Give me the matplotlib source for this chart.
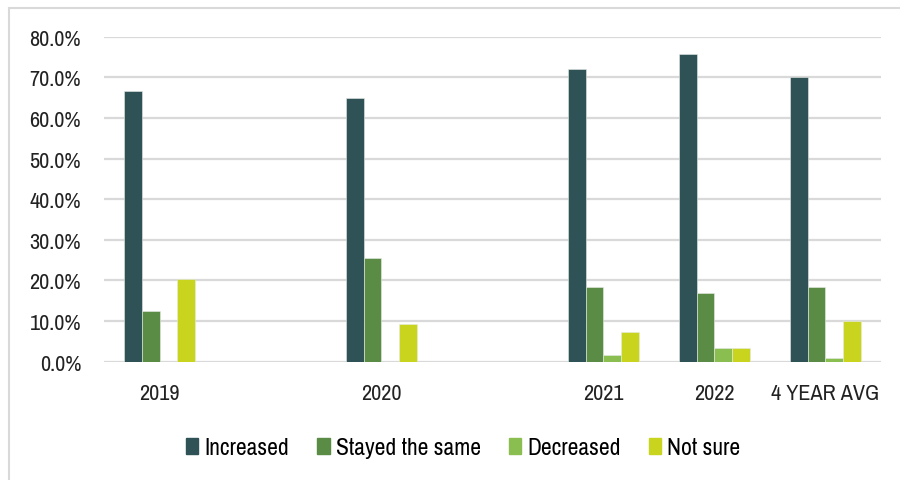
import matplotlib.pyplot as plt
import matplotlib.patches as mpatches
from matplotlib import font_manager
import numpy as np

# prefer a condensed face if one is installed, otherwise Roboto
names = sorted({f.name for f in font_manager.fontManager.ttflist})
narrow = [n for n in names if "Narrow" in n or "Condensed" in n]
plt.rcParams['font.family'] = narrow[:1] + ['Roboto', 'DejaVu Sans']

# empty strings are spacer slots on the category axis
categories = ["2019", "", "2020", "", "2021", "2022", "4 YEAR AVG"]
increased = [66.7, np.nan, 64.9, np.nan, 72.1, 75.8, 70.0]
stayed_same = [12.5, np.nan, 25.5, np.nan, 18.3, 17.0, 18.4]
decreased = [0.0, np.nan, 0.0, np.nan, 1.6, 3.3, 1.0]
not_sure = [20.4, np.nan, 9.2, np.nan, 7.3, 3.3, 10.0]

series = [
    ("Increased", increased, "#2f5257"),
    ("Stayed the same", stayed_same, "#5b8c45"),
    ("Decreased", decreased, "#8bbe50"),
    ("Not sure", not_sure, "#c8d41e"),
]

fig = plt.figure(figsize=(9, 4.81), dpi=100)
ax = fig.add_axes([104 / 900, 118.3 / 481, 777 / 900, 325 / 481])

x = np.arange(len(categories))
w = 0.162
for i, (name, vals, color) in enumerate(series):
    ax.bar(x + (i - 1.5) * w, vals, w, color=color, edgecolor="#e6ece6",
           linewidth=0.4, label=name, zorder=3)

fs = 16 if narrow else 14
ax.set_xlim(-0.5, len(categories) - 0.5)
ax.set_ylim(0, 80)
ax.set_yticks(np.arange(0, 81, 10))
ax.set_yticklabels([f"{v:.1f}%" for v in np.arange(0, 81, 10)])
ax.set_xticks(x)
ax.set_xticklabels(categories)
ax.tick_params(axis="both", length=0, labelsize=fs, colors="#222222")
ax.tick_params(axis="y", pad=16.5)
ax.tick_params(axis="x", pad=15)
ax.grid(axis="y", color="#d9d9d9", linewidth=1.6, zorder=0)
for s in ax.spines.values():
    s.set_visible(False)

handles = [mpatches.Patch(color=c, label=n) for n, _, c in series]
fig.legend(handles=handles, loc="center", bbox_to_anchor=(0.5 + 13 / 900, 1 - 449 / 481),
           ncol=4, frameon=False, fontsize=fs + 1, handlelength=0.53,
           handleheight=0.64, handletextpad=0.25, columnspacing=1.19)

# light outer frame
fig.add_artist(plt.Rectangle((8.5 / 900, -0.1), 1.2, 1.1 - 9 / 481, transform=fig.transFigure,
                             fill=False, edgecolor="#d9d9d9", linewidth=1.5))

fig.savefig("out.png", dpi=100, facecolor="white")
